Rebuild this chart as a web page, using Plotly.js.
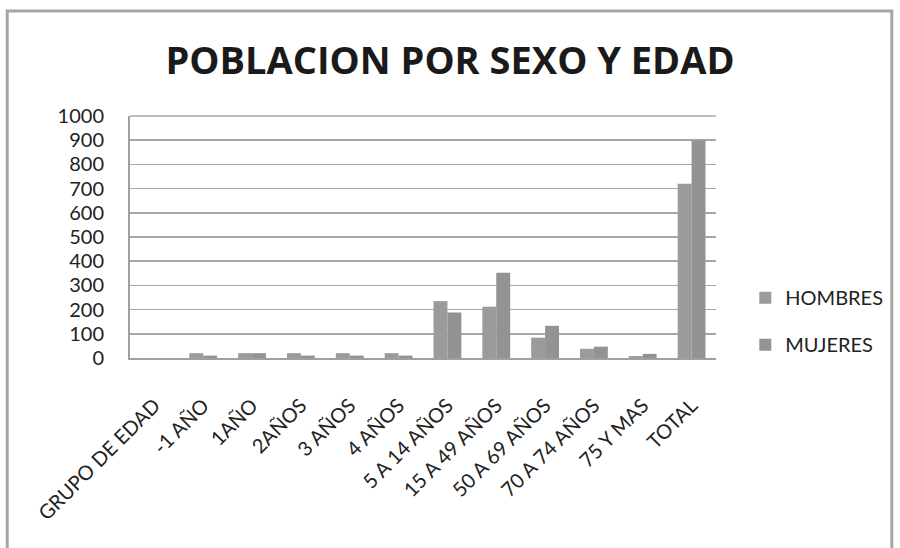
<!DOCTYPE html>
<html>
<head>
<meta charset="utf-8">
<script src="https://cdn.plot.ly/plotly-3.0.1.min.js"></script>
<style>html,body{margin:0;padding:0;background:#fff;}#chart{width:900px;height:548px;}</style>
</head>
<body>
<div id="chart"></div>
<script>
const categories = ["GRUPO DE EDAD", "-1 AÑO", "1AÑO", "2AÑOS", "3 AÑOS", "4 AÑOS", "5 A 14 AÑOS", "15 A 49 AÑOS", "50 A 69 AÑOS", "70 A 74 AÑOS", "75 Y MAS", "TOTAL"];
const hombres = [0, 20, 20, 20, 20, 20, 235, 212, 84, 38, 8, 720];
const mujeres = [0, 10, 20, 10, 10, 10, 188, 352, 133, 47, 17, 900];
const yTicks = [0, 100, 200, 300, 400, 500, 600, 700, 800, 900, 1000];

const font = "Lato, 'Open Sans', sans-serif";
const titleFont = "'Open Sans', sans-serif";
const traces = [
  {type: 'bar', name: 'HOMBRES', x: categories, y: hombres, marker: {color: '#9b9b9b'}, legendgroup: 'h'},
  {type: 'bar', name: 'MUJERES', x: categories, y: mujeres, marker: {color: '#939393'}, legendgroup: 'm'}
];
const layout = {
  width: 900, height: 548,
  margin: {l: 130, r: 178, t: 116, b: 190},
  paper_bgcolor: '#ffffff', plot_bgcolor: '#ffffff',
  font: {family: font, color: '#222222', size: 17},
  title: {text: '<b>POBLACION POR SEXO Y EDAD</b>', x: 0.5, xref: 'container', xanchor: 'center', y: 0.89, yref: 'container', yanchor: 'middle',
          font: {family: titleFont, size: 38, color: '#1a1a1a'}},
  barmode: 'group', bargap: 0.43, bargroupgap: 0,
  showlegend: true,
  legend: {x: 1.05, xanchor: 'left', y: 0.33, yanchor: 'top', traceorder: 'grouped', tracegroupgap: 18,
           font: {family: font, size: 20, color: '#222222'}, itemwidth: 30},
  xaxis: {type: 'category', tickangle: -45, showgrid: false, showline: true, linecolor: '#a0a0a0', linewidth: 2,
          ticks: '', ticklabelstandoff: 26, tickfont: {family: font, size: 20, color: '#222222'}, automargin: false},
  yaxis: {range: [0, 1000], tickvals: yTicks, ticktext: yTicks.map(String), showgrid: true, gridcolor: '#a6a6a6', gridwidth: 1.5,
          showline: true, linecolor: '#a0a0a0', linewidth: 2, zeroline: false, ticks: '', ticklen: 0, ticklabelstandoff: 20,
          tickfont: {family: font, size: 20, color: '#222222'}, automargin: false},
  shapes: [
    {type: 'rect', xref: 'paper', yref: 'paper', x0: -0.2095, x1: 1.3, y0: -0.95, y1: 1.434,
     line: {color: '#a6a6a6', width: 3}, fillcolor: 'rgba(0,0,0,0)', layer: 'below'},
    {type: 'line', xref: 'paper', yref: 'paper', x0: 0, x1: 1, y0: 1, y1: 1, line: {color: '#a6a6a6', width: 1.5}}
  ]
};
Plotly.newPlot('chart', traces, layout, {displayModeBar: false, staticPlot: true});
</script>
</body>
</html>
